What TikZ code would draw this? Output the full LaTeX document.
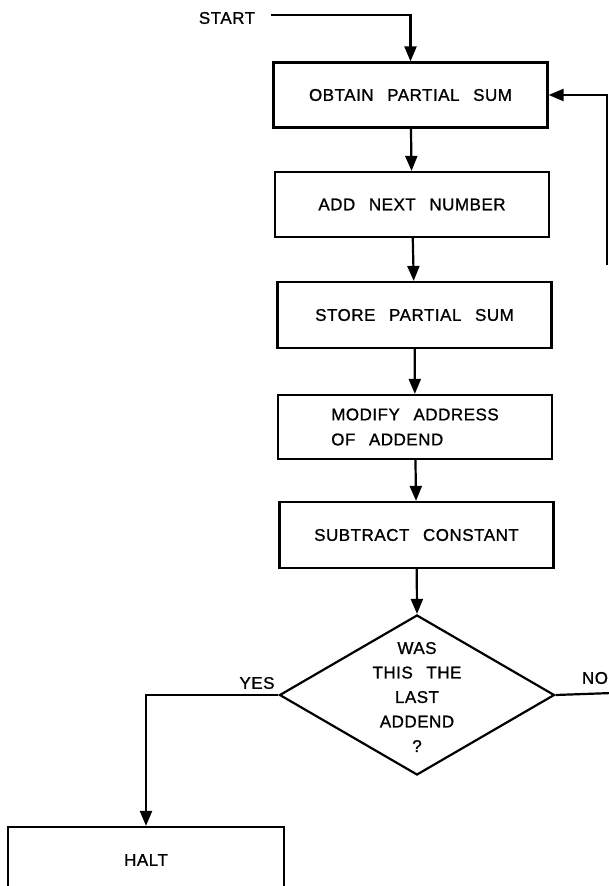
\documentclass[tikz,border=0pt]{standalone}
\usepackage{fontspec}
\newfontfamily\lf[LetterSpace=3,WordSpace=2.6,FakeBold=1]{Liberation Sans}
\usetikzlibrary{arrows.meta,shapes.geometric}
\begin{document}
\begin{tikzpicture}[x=1pt,y=-1pt,
  every node/.style={font=\lf\fontsize{17}{24.5}\selectfont},
  box/.style={draw,line width=2.2pt,minimum width=274pt,minimum height=65pt,inner sep=0pt},
  flow/.style={line width=2.2pt,-{Triangle[length=15pt,width=12pt]}},
  plain/.style={line width=2.2pt}]
\useasboundingbox (0,0) rectangle (609,886);
\fill[white] (0,0) rectangle (609,886);
\clip (0,0) rectangle (609,886);
\node (start) at (227,18) {START};
\coordinate (s0) at (271,15);
\node[box] (b1) at (410.5,95) {OBTAIN PARTIAL SUM};
\node[box] (b2) at (412,204.5) {ADD NEXT NUMBER};
\node[box,minimum height=66pt] (b3) at (414.5,315) {STORE PARTIAL SUM};
\node[box,minimum height=64pt,align=left,font=\lf\fontsize{17}{25}\selectfont] (b4) at (415,427) {MODIFY ADDRESS\\OF ADDEND};
\node[box,minimum height=66pt] (b5) at (416.5,535) {SUBTRACT CONSTANT};
\node[draw,diamond,line width=2.2pt,minimum width=275pt,minimum height=160pt,inner sep=0pt,aspect=1.72] (d) at (417,695) {};
\node[align=center] (dt) at (417,697) {WAS\\THIS THE\\LAST\\ADDEND\\?};
\node[box,minimum width=276pt,minimum height=66pt] (halt) at (146,860) {HALT};
\node (yes) at (257,683) {YES};
\node (no) at (595,678) {NO};
\coordinate (fb) at (607,265);
\coordinate (noend) at (612,693);
\draw[flow] (s0) -| (b1.north);
\draw[flow] (b1) -- (b2);
\draw[flow] (b2) -- (b3);
\draw[flow] (b3) -- (b4);
\draw[flow] (b4) -- (b5);
\draw[flow] (b5) -- (d.north);
\draw[flow] (fb) |- (b1.east);
\draw[plain] (d.east) -- (noend);
\draw[flow] (d.west) -| (halt.north);
\end{tikzpicture}
\end{document}
